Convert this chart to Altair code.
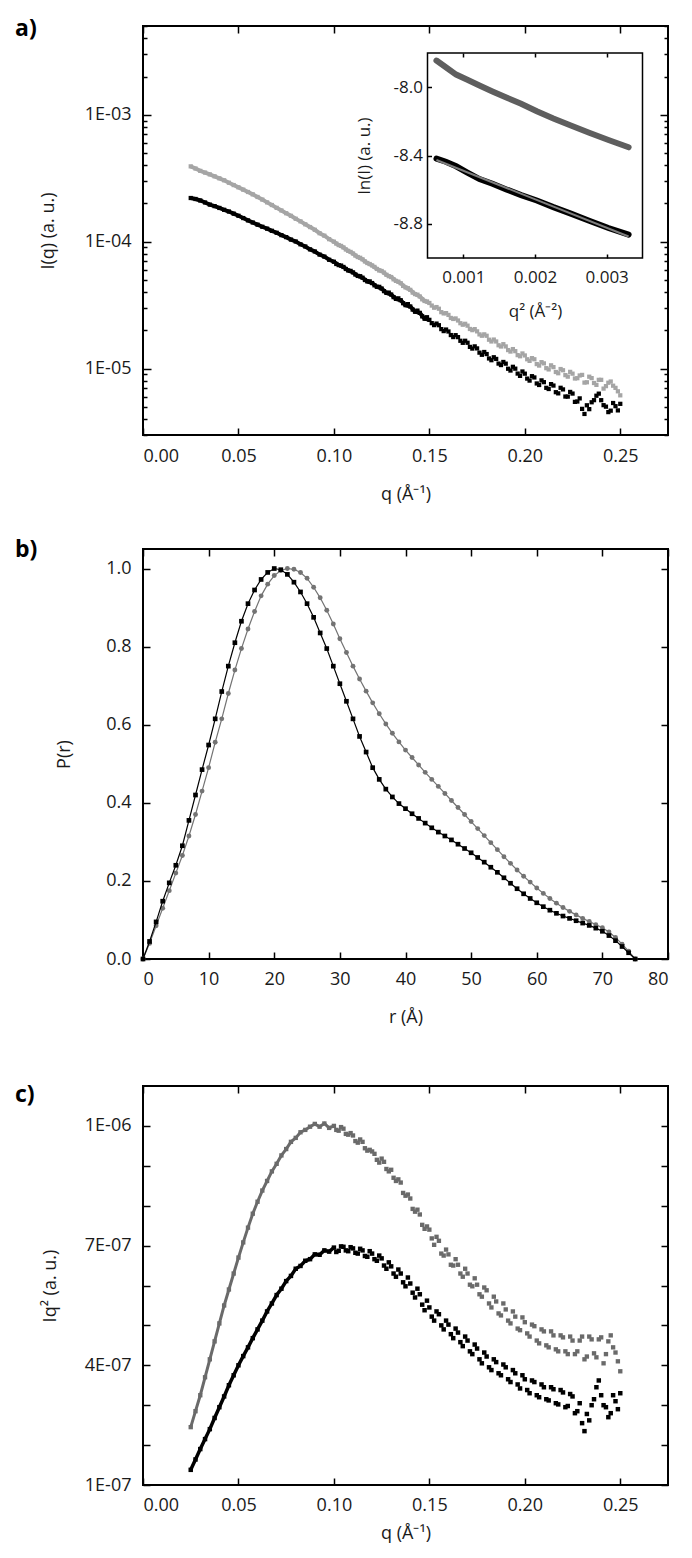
import math
import altair as alt
import pandas as pd

# ---------------- data ----------------
Q = [0.025, 0.0275, 0.03, 0.0325, 0.035, 0.0375, 0.04, 0.0425, 0.045, 0.0475,
     0.05, 0.0525, 0.055, 0.0575, 0.06, 0.0625, 0.065, 0.0675, 0.07, 0.0725,
     0.075, 0.0775, 0.08, 0.0825, 0.085, 0.0875, 0.09, 0.0925, 0.095, 0.0975,
     0.1, 0.1025, 0.105, 0.1075, 0.11, 0.1125, 0.115, 0.1175, 0.12, 0.1225,
     0.125, 0.1275, 0.13, 0.1325, 0.135, 0.1375, 0.14, 0.1425, 0.145, 0.1475,
     0.15, 0.1525, 0.155, 0.1575, 0.16, 0.1625, 0.165, 0.1675, 0.17, 0.1725,
     0.175, 0.1775, 0.18, 0.1825, 0.185, 0.1875, 0.19, 0.1925, 0.195, 0.1975,
     0.2, 0.2025, 0.205, 0.2075, 0.21, 0.2125, 0.215, 0.2175, 0.22, 0.2225,
     0.225, 0.2275, 0.23, 0.2325, 0.235, 0.2375, 0.24, 0.2425, 0.245, 0.2475,
     0.25]

# I*q^2 in units of 1E-07 (panel c); panel a and the inset use I = Iq^2 / q^2
K_GRAY = [2.45, 2.85, 3.25, 3.70, 4.15, 4.60, 5.05, 5.50, 5.90, 6.30,
          6.70, 7.08, 7.45, 7.80, 8.10, 8.38, 8.62, 8.86, 9.05, 9.26,
          9.42, 9.60, 9.70, 9.84, 9.90, 9.98, 10.05, 9.98, 10.06, 9.95,
          10.00, 9.88, 9.93, 9.78, 9.76, 9.58, 9.60, 9.38, 9.36, 9.15,
          9.18, 8.92, 8.90, 8.62, 8.58, 8.25, 8.18, 7.85, 7.78, 7.42,
          7.40, 7.02, 7.12, 6.75, 6.78, 6.50, 6.52, 6.22, 6.30, 5.98,
          6.02, 5.72, 5.88, 5.45, 5.60, 5.25, 5.40, 5.05, 5.22, 4.88,
          5.08, 4.72, 4.98, 4.55, 4.85, 4.45, 4.75, 4.35, 4.70, 4.28,
          4.62, 4.35, 4.72, 4.22, 4.65, 4.20, 4.70, 4.28, 4.75, 4.32,
          3.85]
K_BLACK = [1.38, 1.64, 1.90, 2.15, 2.40, 2.68, 2.95, 3.22, 3.50, 3.75,
           4.00, 4.23, 4.45, 4.68, 4.90, 5.12, 5.35, 5.55, 5.76, 5.92,
           6.11, 6.24, 6.42, 6.49, 6.62, 6.66, 6.78, 6.77, 6.88, 6.85,
           6.95, 6.87, 6.97, 6.86, 6.93, 6.80, 6.88, 6.72, 6.80, 6.62,
           6.68, 6.42, 6.48, 6.22, 6.30, 5.98, 6.05, 5.70, 5.78, 5.38,
           5.45, 5.12, 5.28, 4.90, 5.02, 4.68, 4.82, 4.48, 4.62, 4.28,
           4.42, 4.05, 4.22, 3.88, 4.08, 3.75, 3.95, 3.58, 3.80, 3.42,
           3.65, 3.30, 3.58, 3.20, 3.45, 3.12, 3.40, 3.02, 3.32, 2.98,
           3.22, 2.85, 2.55, 2.78, 3.00, 3.45, 3.25, 2.95, 2.80, 3.10,
           3.30]

# extra scattered points between the grid values at high q (Iq^2, 1E-07 units)
Q_MID = [0.10125, 0.10375, 0.10625, 0.10875, 0.11125, 0.11375, 0.11625, 0.11875, 0.12125, 0.12375,
         0.12625, 0.12875, 0.13125, 0.13375, 0.13625, 0.13875, 0.14125, 0.14375, 0.14625, 0.14875,
         0.15125, 0.15375, 0.15625, 0.15875, 0.16125, 0.16375, 0.16625, 0.16875, 0.17125, 0.17375,
         0.17625, 0.17875, 0.18125, 0.18375, 0.18625, 0.18875, 0.19125, 0.19375, 0.19625, 0.19875,
         0.20125, 0.20375, 0.20625, 0.20875, 0.21125, 0.21375, 0.21625, 0.21875, 0.22125, 0.22375,
         0.22625, 0.22875, 0.23125, 0.23375, 0.23625, 0.23875, 0.24125, 0.24375, 0.24625, 0.24875]
K_GRAY_MID = [9.90, 9.97, 9.80, 9.82, 9.62, 9.66, 9.44, 9.40, 9.30, 9.08,
              9.10, 8.86, 8.70, 8.66, 8.32, 8.28, 7.92, 7.90, 7.52, 7.48,
              7.18, 7.22, 6.80, 6.90, 6.52, 6.66, 6.30, 6.42, 6.02, 6.18,
              5.78, 5.95, 5.55, 5.72, 5.30, 5.55, 5.12, 5.35, 4.92, 5.20,
              4.80, 5.02, 4.62, 4.90, 4.50, 4.85, 4.40, 4.75, 4.35, 4.72,
              4.28, 4.62, 4.15, 4.72, 4.30, 4.65, 4.05, 4.60, 4.45, 4.10]
K_BLACK_MID = [6.84, 6.98, 6.88, 6.96, 6.82, 6.92, 6.74, 6.86, 6.66, 6.75,
               6.50, 6.58, 6.30, 6.40, 6.08, 6.20, 5.82, 5.92, 5.52, 5.62,
               5.22, 5.35, 5.00, 5.12, 4.78, 4.92, 4.58, 4.72, 4.35, 4.52,
               4.15, 4.32, 3.95, 4.15, 3.80, 4.02, 3.65, 3.88, 3.52, 3.75,
               3.38, 3.62, 3.25, 3.52, 3.15, 3.45, 3.05, 3.38, 2.95, 3.28,
               2.80, 3.05, 2.35, 2.62, 3.15, 3.62, 3.00, 2.70, 3.25, 2.90]

R = [0, 1, 2, 3, 4, 5, 6, 7, 8, 9, 10, 11, 12, 13, 14, 15, 16, 17, 18, 19,
     20, 21, 22, 23, 24, 25, 26, 27, 28, 29, 30, 31, 32, 33, 34, 35, 36, 37, 38, 39,
     40, 41, 42, 43, 44, 45, 46, 47, 48, 49, 50, 51, 52, 53, 54, 55, 56, 57, 58, 59,
     60, 61, 62, 63, 64, 65, 66, 67, 68, 69, 70, 71, 72, 73, 74, 75]
P_BLACK = [0.0, 0.045, 0.095, 0.148, 0.195, 0.24, 0.29, 0.355, 0.42, 0.485,
           0.548, 0.615, 0.685, 0.75, 0.81, 0.865, 0.91, 0.945, 0.972, 0.99,
           1.0, 0.997, 0.985, 0.965, 0.94, 0.91, 0.875, 0.835, 0.795, 0.75,
           0.705, 0.66, 0.615, 0.57, 0.53, 0.49, 0.46, 0.435, 0.415, 0.398,
           0.385, 0.372, 0.36, 0.348, 0.336, 0.325, 0.315, 0.305, 0.294, 0.283,
           0.272, 0.26, 0.248, 0.235, 0.222, 0.208, 0.194, 0.18, 0.167, 0.155,
           0.144, 0.134, 0.125, 0.117, 0.11, 0.104, 0.098, 0.092, 0.086, 0.079,
           0.071, 0.06, 0.047, 0.032, 0.016, 0.0]
P_GRAY = [0.0, 0.04, 0.085, 0.13, 0.175, 0.22, 0.265, 0.315, 0.37, 0.43,
          0.49, 0.555, 0.615, 0.68, 0.74, 0.795, 0.845, 0.89, 0.93, 0.96,
          0.982, 0.995, 1.0, 0.998, 0.99, 0.975, 0.952, 0.925, 0.893, 0.858,
          0.82, 0.785, 0.75, 0.717, 0.686, 0.656, 0.628, 0.602, 0.578, 0.556,
          0.535, 0.516, 0.497, 0.478, 0.46, 0.442, 0.424, 0.406, 0.388, 0.37,
          0.352, 0.334, 0.316, 0.298, 0.28, 0.262, 0.245, 0.228, 0.212, 0.197,
          0.182, 0.168, 0.155, 0.143, 0.132, 0.122, 0.113, 0.104, 0.096, 0.088,
          0.08, 0.069, 0.055, 0.038, 0.02, 0.0]

X_TICKS_Q = [0.0, 0.05, 0.10, 0.15, 0.20, 0.25]
Y_LABELS_A = [1e-5, 1e-4, 1e-3]
Y_TICKS_A = [float(f"{k}e{e}") for e in (-6, -5, -4, -3) for k in range(1, 10)
             if 3e-6 * 0.999 <= float(f"{k}e{e}") <= 5e-3 * 1.001]
X_TICKS_R = [0, 10, 20, 30, 40, 50, 60, 70, 80]
Y_TICKS_B = [0.0, 0.2, 0.4, 0.6, 0.8, 1.0]
Y_LABELS_C = [1e-7, 4e-7, 7e-7, 1e-6]
Y_TICKS_C = [float(f"{k}e-7") for k in range(1, 11)]
X_TICKS_I = [0.001, 0.002, 0.003]
Y_TICKS_I = [-8.8, -8.4, -8.0]

# ---------------- tables ----------------
def kratky_table(qs, ks):
    return pd.DataFrame({"q": qs, "K": [k * 1e-7 for k in ks]})

c_g_main = kratky_table(Q, K_GRAY)
c_b_main = kratky_table(Q, K_BLACK)
c_g_all = pd.concat([c_g_main, kratky_table(Q_MID, K_GRAY_MID)], ignore_index=True)
c_b_all = pd.concat([c_b_main, kratky_table(Q_MID, K_BLACK_MID)], ignore_index=True)


def to_intensity(df):
    return df.assign(I=df.K / df.q ** 2)

a_g_main, a_b_main = to_intensity(c_g_main), to_intensity(c_b_main)
a_g_all, a_b_all = to_intensity(c_g_all), to_intensity(c_b_all)


def to_guinier(df):
    d = df[df.q <= 0.058]
    return d.assign(q2=d.q ** 2, lnI=d.I.apply(math.log))

i_g, i_b = to_guinier(a_g_main), to_guinier(a_b_main)

df_b_g = pd.DataFrame({"r": R, "P": P_GRAY})
df_b_b = pd.DataFrame({"r": R, "P": P_BLACK})

# ---------------- layout ----------------
FONT = "Open Sans"
W = 525
HA, HB, HC = 409, 410, 399
GRAY_A = "#a5a5a5"
GRAY_B = "#737373"
GRAY_C = "#6a6a6a"

XQ = alt.Scale(domain=[0, 0.275], nice=False, zero=False)
YA = alt.Scale(type="log", domain=[3e-6, 5e-3], nice=False)
XR = alt.Scale(domain=[0, 80], nice=False, zero=False)
YB = alt.Scale(domain=[0, 1.05], nice=False, zero=False)
YC = alt.Scale(domain=[1e-7, 1.1e-6], nice=False, zero=False)
XI = alt.Scale(domain=[0.0005, 0.0035], range=[284.5, 499.5], nice=False, zero=False)
YI = alt.Scale(domain=[-9.0, -7.8], range=[232, 27], nice=False, zero=False)


def lab_axis(orient, values, title, fmt=None, lexpr=None, lpad=12, tpad=20):
    kw = dict(orient=orient, values=values, title=title, ticks=False, tickSize=0,
              domain=False, grid=False, labelPadding=lpad, titlePadding=tpad)
    if fmt:
        kw["format"] = fmt
    if lexpr:
        kw["labelExpr"] = lexpr
    return alt.Axis(**kw)


def tick_axis(orient, offset, values, size=7):
    return alt.Axis(orient=orient, offset=offset, values=values, labels=False,
                    domain=False, grid=False, title=None, ticks=True, tickSize=size,
                    tickWidth=1.5, tickColor="black")


LOG_TICK = {"condition": {"test": "abs(log(datum.value)/LN10 - round(log(datum.value)/LN10)) < 0.01",
                          "value": 8}, "value": 4}


def log_tick_axis(orient, offset):
    return alt.Axis(orient=orient, offset=offset, values=Y_TICKS_A, labels=False,
                    domain=False, grid=False, title=None, ticks=True, tickSize=LOG_TICK,
                    tickWidth=1.5, tickColor="black")


def panel_label(text, y):
    return alt.Chart(pd.DataFrame({"t": [text]})).mark_text(
        align="left", baseline="middle", font=FONT, fontSize=23, fontWeight="bold", color="black"
    ).encode(text="t:N", x=alt.value(-128), y=alt.value(y))


# ---------------- panel a ----------------
a1 = alt.Chart(a_g_main).transform_filter("datum.q <= 0.15").mark_line(color=GRAY_A, strokeWidth=4).encode(
    x=alt.X("q:Q", scale=XQ, axis=lab_axis("bottom", X_TICKS_Q, "q (Å⁻¹)", fmt=".2f", lpad=12, tpad=20)),
    y=alt.Y("I:Q", scale=YA, axis=lab_axis("left", Y_LABELS_A, "I(q)  (a. u.)",
                                           lexpr="'1E-0' + format(-log(datum.value)/LN10, '.0f')",
                                           lpad=12, tpad=27)))
a2 = alt.Chart(a_g_all).mark_square(color=GRAY_A, size=18, opacity=1).encode(
    x=alt.X("q:Q", scale=XQ, axis=tick_axis("top", -HA, X_TICKS_Q)),
    y=alt.Y("I:Q", scale=YA, axis=log_tick_axis("right", -W)))
a3 = alt.Chart(a_b_main).transform_filter("datum.q <= 0.15").mark_line(color="black", strokeWidth=4).encode(
    x=alt.X("q:Q", scale=XQ, axis=tick_axis("bottom", -HA, X_TICKS_Q)),
    y=alt.Y("I:Q", scale=YA, axis=log_tick_axis("left", -W)))
a4 = alt.Chart(a_b_all).mark_square(color="black", size=18, opacity=1).encode(
    x=alt.X("q:Q", scale=XQ, axis=None),
    y=alt.Y("I:Q", scale=YA, axis=None))

i1 = alt.Chart(i_g).mark_line(color="#5e5e5e", strokeWidth=6, strokeCap="round").encode(
    x=alt.X("q2:Q", scale=XI, axis=alt.Axis(
        orient="bottom", offset=-(HA - 232) - 4, values=X_TICKS_I, format=".3f",
        tickSize=4, tickWidth=1.5, tickColor="black", domain=False, grid=False,
        labelPadding=11, title="q² (Å⁻²)", titlePadding=18, labelFontSize=17, titleFontSize=17)),
    y=alt.Y("lnI:Q", scale=YI, axis=alt.Axis(
        orient="left", offset=-288.5, values=Y_TICKS_I,
        labelExpr="'-' + format(abs(datum.value), '.1f')",
        tickSize=4, tickWidth=1.5, tickColor="black", domain=False, grid=False,
        labelPadding=5, title="ln(I)  (a. u.)", titlePadding=20, labelFontSize=17, titleFontSize=17)))
i2 = alt.Chart(i_b).mark_line(color="black", strokeWidth=6, strokeCap="round").encode(
    x=alt.X("q2:Q", scale=XI, axis=None),
    y=alt.Y("lnI:Q", scale=YI, axis=None))
i3 = alt.Chart(i_b).transform_regression("q2", "lnI").mark_line(
    color="#7d7d7d", strokeWidth=2).encode(
    x=alt.X("q2:Q", scale=XI, axis=None),
    y=alt.Y("lnI:Q", scale=YI, axis=None))
i4 = alt.Chart(pd.DataFrame({"d": [0]})).mark_rect(
    fillOpacity=0, stroke="black", strokeWidth=1.5).encode(
    x=alt.XDatum(0.0005, scale=XI, axis=tick_axis("bottom", -(HA - 27), X_TICKS_I, 4)),
    x2=alt.X2Datum(0.0035),
    y=alt.YDatum(-9.0, scale=YI, axis=None),
    y2=alt.Y2Datum(-7.8))

panel_a = alt.layer(a1, a2, a3, a4, i1, i2, i3, i4, panel_label("a)", 3)).resolve_scale(
    x="independent", y="independent").properties(width=W, height=HA)

# ---------------- panel b ----------------
b1 = alt.Chart(df_b_g).mark_line(color=GRAY_B, strokeWidth=1.2).encode(
    x=alt.X("r:Q", scale=XR, axis=lab_axis("bottom", X_TICKS_R, "r (Å)", fmt="d", lpad=11, tpad=20)),
    y=alt.Y("P:Q", scale=YB, axis=lab_axis("left", Y_TICKS_B, "P(r)", fmt=".1f", lpad=12, tpad=32)))
b2 = alt.Chart(df_b_g).mark_circle(color=GRAY_B, size=24, opacity=1).encode(
    x=alt.X("r:Q", scale=XR, axis=tick_axis("top", -HB, X_TICKS_R)),
    y=alt.Y("P:Q", scale=YB, axis=tick_axis("right", -W, Y_TICKS_B)))
b3 = alt.Chart(df_b_b).mark_line(color="black", strokeWidth=1.2).encode(
    x=alt.X("r:Q", scale=XR, axis=tick_axis("bottom", -HB, X_TICKS_R)),
    y=alt.Y("P:Q", scale=YB, axis=tick_axis("left", -W, Y_TICKS_B)))
b4 = alt.Chart(df_b_b).mark_square(color="black", size=22, opacity=1).encode(
    x=alt.X("r:Q", scale=XR, axis=None),
    y=alt.Y("P:Q", scale=YB, axis=None))

panel_b = alt.layer(b1, b2, b3, b4, panel_label("b)", 1)).resolve_scale(
    x="independent", y="independent").properties(width=W, height=HB)

# ---------------- panel c ----------------
c1 = alt.Chart(c_g_main).transform_filter("datum.q <= 0.1").mark_line(color=GRAY_C, strokeWidth=3).encode(
    x=alt.X("q:Q", scale=XQ, axis=lab_axis("bottom", X_TICKS_Q, "q (Å⁻¹)", fmt=".2f", lpad=11, tpad=10)),
    y=alt.Y("K:Q", scale=YC, axis=lab_axis(
        "left", Y_LABELS_C, "Iq²  (a. u.)",
        lexpr="datum.value > 9.5e-7 ? '1E-06' : format(datum.value*1e7, '.0f') + 'E-07'",
        lpad=12, tpad=25)))
c2 = alt.Chart(c_g_all).mark_square(color=GRAY_C, size=19, opacity=1).encode(
    x=alt.X("q:Q", scale=XQ, axis=tick_axis("top", -HC, X_TICKS_Q)),
    y=alt.Y("K:Q", scale=YC, axis=tick_axis("right", -W, Y_TICKS_C)))
c3 = alt.Chart(c_b_main).transform_filter("datum.q <= 0.1").mark_line(color="black", strokeWidth=3.5).encode(
    x=alt.X("q:Q", scale=XQ, axis=tick_axis("bottom", -HC, X_TICKS_Q)),
    y=alt.Y("K:Q", scale=YC, axis=tick_axis("left", -W, Y_TICKS_C)))
c4 = alt.Chart(c_b_all).mark_square(color="black", size=20, opacity=1).encode(
    x=alt.X("q:Q", scale=XQ, axis=None),
    y=alt.Y("K:Q", scale=YC, axis=None))

panel_c = alt.layer(c1, c2, c3, c4, panel_label("c)", 9)).resolve_scale(
    x="independent", y="independent").properties(width=W, height=HC)

top = alt.vconcat(panel_a, panel_b, spacing=34)
chart = alt.vconcat(top, panel_c, spacing=56).properties(
    padding={"left": 6, "top": 9, "right": 5, "bottom": 5}
).configure_view(stroke="black", strokeWidth=2).configure_axis(
    labelFont=FONT, titleFont=FONT, labelFontSize=18, titleFontSize=18,
    titleFontWeight="normal", labelColor="#1a1a1a", titleColor="#1a1a1a", grid=False
)

chart.save("out.html", embed_options={"renderer": "svg", "actions": False})
